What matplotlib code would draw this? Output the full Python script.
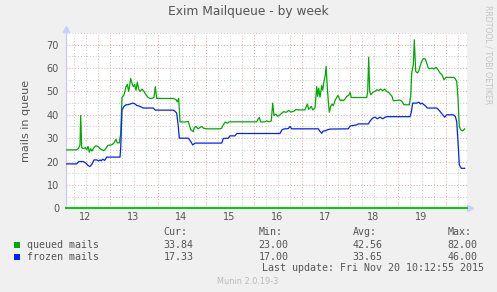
import matplotlib
matplotlib.use("Agg")
import matplotlib.pyplot as plt
from matplotlib.patches import Rectangle
import numpy as np

# ---- data (hours since Nov 12 00:00) ----
queued_t = [2.6, 7.6, 8.4, 9.25, 9.6, 10.1, 10.9, 11.9, 12.6, 13.25, 13.9, 14.6, 15.25, 16.25,
            17.25, 18.25, 19.25, 20.25, 21.25, 22.25, 23.25, 24.25, 25.25, 26.25, 27.25, 27.9,
            28.9, 29.6, 30.25, 31.25, 32.25, 32.9, 33.6, 34.6, 35.25, 35.9, 36.6, 37.25, 37.9,
            38.6, 39.25, 40.25, 41.25, 42.25, 43.25, 44.25, 45.25, 46.25, 46.9, 47.6, 49.25,
            55.9, 57.25, 57.9, 58.6, 59.25, 61.75, 63.4, 64.6, 65.9, 66.25, 67.25, 68.25, 69.25,
            70.25, 70.9, 72.6, 79.25, 80.1, 80.9, 81.9, 82.9, 83.9, 97.6, 98.4, 98.9, 99.6,
            101.75, 102.6, 103.9, 104.9, 105.6, 106.25, 107.25, 107.9, 108.9, 110.1, 111.25,
            112.25, 113.6, 114.6, 115.9, 117.25, 118.4, 121.75, 122.9, 123.6, 124.9, 125.6,
            126.75, 127.6, 128.1, 128.6, 129.25, 130.1, 130.6, 131.25, 131.9, 132.3, 132.9,
            133.4, 133.9, 134.6, 135.25, 135.9, 136.9, 137.6, 138.25, 138.9, 139.6, 140.25,
            140.9, 141.9, 142.6, 143.6, 144.25, 144.9, 152.6, 153.1, 153.6, 154.1, 154.6,
            155.6, 156.75, 157.6, 158.6, 159.6, 160.6, 161.6, 162.6, 163.6, 164.6, 165.25,
            165.9, 169.25, 170.25, 171.25, 173.9, 174.6, 175.1, 175.9, 176.4, 177.1, 177.9,
            178.6, 179.25, 180.1, 180.9, 181.9, 182.6, 183.4, 184.25, 185.25, 186.25, 187.25,
            188.25, 189.25, 190.25, 191.25, 192.25, 196.25, 196.9, 197.6, 198.25, 198.9,
            199.6, 200.6, 201.6]
queued_v = [25, 25, 25.5, 27, 39.7, 26, 25.5, 26, 25, 26.5, 24, 25.5, 24.5, 26,
            26.8, 26.5, 25.5, 25, 24.7, 25.7, 27, 27, 27.2, 28, 29.5, 28,
            28, 32, 47.5, 48.5, 52, 53, 50, 55.5, 53.5, 52, 53, 50.5, 54,
            51, 50, 51, 50, 48.5, 47.5, 47, 47, 47.5, 52, 47, 47,
            47, 46.5, 45.5, 47, 37, 36.9, 37.2, 33.6, 32.8, 34.3, 35, 34, 34.6,
            35, 34.3, 34, 34, 34.3, 35.7, 36.9, 36.4, 37, 37, 38.3, 38.9, 36.9,
            37, 37.4, 37, 37.4, 45, 39.7, 40.3, 39.4, 39.7, 40.7, 41.4,
            41, 41.9, 41.2, 41.4, 42.3, 42.1, 42.1, 44.6, 42.3, 43.6, 42.1,
            42.9, 52.1, 47.9, 51.4, 47.5, 52.5, 50.5, 54.3, 57, 60.7, 52,
            45.7, 41.1, 43.6, 44.6, 43.9, 46.4, 47.4, 48.3, 46.9, 46, 46.4,
            46, 46.9, 47.9, 48.3, 49.6, 47.4, 47.4, 50, 64.7, 50, 48.6,
            49.6, 50, 50.7, 50.4, 51, 50.3, 51, 50, 49.6, 48.6, 47.9,
            46, 46.3, 45.7, 44.3, 44.3, 47.9, 57.9, 61.4, 72.1, 58.6, 57.9,
            58.6, 60.7, 62.9, 64, 63.9, 62.1, 60, 59.7, 60, 59.6, 60.3,
            59.3, 57.9, 57.1, 55, 56, 56, 55.4, 54.3, 47.1, 35,
            33.6, 33.1, 34]

frozen_t = [2.6, 7.6, 8.6, 10.9, 12.25, 13.25, 14.25, 15.25, 16.25, 17.6, 18.6, 19.25, 19.9,
            20.6, 21.6, 22.6, 29.25, 29.6, 30.25, 31.25, 32.25, 33.25, 34.25, 35.6, 36.9,
            37.6, 39.25, 40.9, 45.9, 46.9, 55.9, 56.9, 57.6, 58.4, 58.9, 63.4, 64.6, 65.6,
            66.75, 80.1, 80.9, 83.4, 84.25, 86.75, 87.6, 109.25, 110.1, 110.9, 113.4, 114.25,
            115.1, 128.4, 129.25, 130.1, 130.9, 131.75, 133.0, 134.25, 143.4, 144.25, 147.6,
            148.4, 153.4, 154.25, 155.6, 156.75, 157.9, 159.25, 160.6, 161.9, 162.6, 174.25,
            174.9, 175.6, 177.6, 178.6, 179.6, 180.25, 181.25, 182.25, 182.9, 187.6, 188.6,
            189.6, 190.6, 191.6, 192.6, 195.9, 196.9, 197.6, 198.25, 198.9, 199.9, 201.6]
frozen_v = [19, 19, 20, 20, 19.3, 18.3, 17.9, 18.9, 20.7, 20.7, 20.3, 20.7, 20.3,
            21, 20.5, 21.9, 21.9, 25.7, 42.1, 43.6, 44.3, 44.3, 44.6, 45, 44.6,
            44, 43.6, 42.9, 42.9, 42, 42, 41.4, 40.7, 35, 30, 30, 28.6, 27.1,
            27.9, 27.9, 29.9, 30, 31, 31, 32, 32, 33.4, 33.9, 34.1, 35,
            34, 34, 32.9, 32.1, 33.1, 33.1, 33.6, 33.9, 34, 35.2, 35.7,
            36.1, 36.1, 37.3, 38.6, 39, 38.3, 39, 38.3, 39, 39.2, 39.2,
            41.1, 45, 45, 45.4, 44.6, 45, 44.3, 43.6, 42.9, 42.9, 42.1,
            41.1, 40, 39, 40, 40, 39.3, 37.1, 28.6, 18.6, 17.1, 17.1]

day_labels = ["12", "13", "14", "15", "16", "17", "18", "19"]
y_ticks = [0, 10, 20, 30, 40, 50, 60, 70]
legend_names = ["queued mails", "frozen mails"]
legend_cur = ["33.84", "17.33"]
legend_min = ["23.00", "17.00"]
legend_avg = ["42.56", "33.65"]
legend_max = ["82.00", "46.00"]
colors = ["#00AA00", "#0022FF"]

W, H = 497, 292
fig = plt.figure(figsize=(W / 100, H / 100), dpi=100, facecolor="#F0F0F0")

def fx(px):
    return px / W

def fy(py):
    return 1 - py / H

L, R, T, B = 66, 467, 33, 208.3
ax = fig.add_axes([fx(L), fy(B), fx(R) - fx(L), fy(T) - fy(B)])
ax.set_facecolor("white")
x0, x1 = 2.25, 202.75
ax.set_xlim(x0, x1)
ax.set_ylim(0, 75)
for s in ax.spines.values():
    s.set_visible(False)

# grid
dot = (0, (1, 2))
for xv in np.arange(6, 203, 6):
    if xv % 24 == 0:
        continue
    ax.axvline(xv, color="#C8C8C8", lw=0.7, ls=dot, zorder=1)
for yv in np.arange(5, 76, 10):
    ax.axhline(yv, color="#C8C8C8", lw=0.7, ls=dot, zorder=1)
for xv in np.arange(24, 200, 24):
    ax.axvline(xv, color="#E6A0A0", lw=0.7, ls=dot, zorder=1)
for yv in y_ticks[1:]:
    ax.axhline(yv, color="#E6A0A0", lw=0.7, ls=dot, zorder=1)

# data
ax.plot(queued_t, queued_v, color=colors[0], lw=0.9, zorder=3)
ax.plot(frozen_t, frozen_v, color=colors[1], lw=0.9, zorder=3)

# zero line, axis and arrows
ax.axhline(0, color="#00CC00", lw=1.4, zorder=4, clip_on=False)
ax.plot([0, 0], [0, 1.02], transform=ax.transAxes, color="#C8C8F0", lw=0.9, clip_on=False, zorder=2)
ax.plot([0], [1.025], transform=ax.transAxes, marker="^", ms=5, color="#C8D0F8", clip_on=False, zorder=2)
ax.plot([1.008], [0], transform=ax.transAxes, marker=">", ms=5, color="#C8D0F8", clip_on=False, zorder=2)

# ticks
ax.set_xticks([12 + 24 * i for i in range(len(day_labels))])
ax.set_xticklabels(day_labels)
ax.set_yticks(y_ticks)
ax.set_yticklabels([str(v) for v in y_ticks])
ax.tick_params(axis="both", length=0, labelsize=7, labelcolor="#555555")
ax.tick_params(axis="y", pad=5)
ax.tick_params(axis="x", pad=3)
ax.set_ylabel("mails in queue", fontsize=8, color="#555555", labelpad=11)

fig.text(fx(248), fy(12), "Exim Mailqueue - by week", ha="center", va="center",
         fontsize=8.8, color="#555555")
fig.text(fx(488), fy(5), "RRDTOOL / TOBI OETIKER", rotation=270, ha="center", va="top",
         fontsize=5.6, color="#C4C4C4")

mono = "DejaVu Sans Mono"
ms = 7.2
tc = "#555555"
fig.text(fx(163.3), fy(231.7), "Cur:", family=mono, fontsize=ms, color=tc, va="center")
fig.text(fx(258.3), fy(231.7), "Min:", family=mono, fontsize=ms, color=tc, va="center")
fig.text(fx(352.7), fy(231.7), "Avg:", family=mono, fontsize=ms, color=tc, va="center")
fig.text(fx(447.3), fy(231.7), "Max:", family=mono, fontsize=ms, color=tc, va="center")
rows = [245, 256.7]
for i in range(2):
    yc = rows[i]
    fig.patches.append(Rectangle((fx(14), fy(yc + 3)), 6 / W, 6 / H, transform=fig.transFigure,
                                 facecolor=colors[i], edgecolor="none"))
    fig.text(fx(26.7), fy(yc), legend_names[i], family=mono, fontsize=ms, color=tc, va="center")
    fig.text(fx(163.3), fy(yc), legend_cur[i], family=mono, fontsize=ms, color=tc, va="center")
    fig.text(fx(258.3), fy(yc), legend_min[i], family=mono, fontsize=ms, color=tc, va="center")
    fig.text(fx(352.7), fy(yc), legend_avg[i], family=mono, fontsize=ms, color=tc, va="center")
    fig.text(fx(447.3), fy(yc), legend_max[i], family=mono, fontsize=ms, color=tc, va="center")
fig.text(fx(261.7), fy(268.3), "Last update: Fri Nov 20 10:12:55 2015", family=mono,
         fontsize=ms, color=tc, va="center")
fig.text(fx(248), fy(281), "Munin 2.0.19-3", ha="center", va="center", fontsize=5.9,
         color="#BBBBBB")

fig.savefig("out.png", dpi=100, facecolor=fig.get_facecolor())
